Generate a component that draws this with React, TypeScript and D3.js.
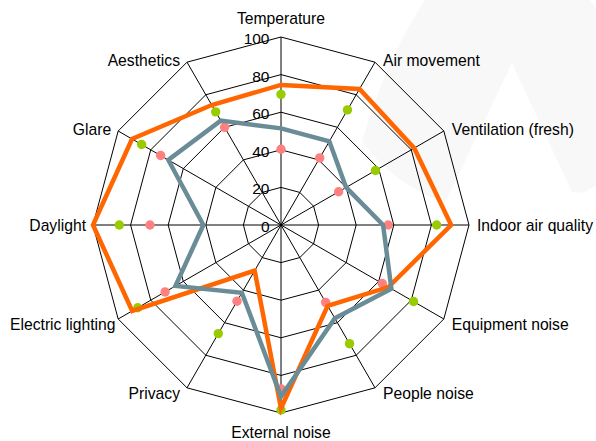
import React from "react";
import * as d3 from "d3";

const categories = [
  "Temperature",
  "Air movement",
  "Ventilation (fresh)",
  "Indoor air quality",
  "Equipment noise",
  "People noise",
  "External noise",
  "Privacy",
  "Electric lighting",
  "Daylight",
  "Glare",
  "Aesthetics",
];

const orangeSeries = [74.5, 83.5, 81.8, 90.5, 66, 49.6, 97.5, 28, 91.4, 100, 91.5, 73.7];
const graySeries = [51.4, 51.4, 40, 54.3, 67.8, 57.3, 91.3, 41.6, 64.8, 41.3, 69.2, 64.1];
const greenSeries = [69.5, 70.7, 58, 82.8, 81.4, 72.9, 98.4, 66.7, 88, 86, 85.6, 69.5];
const pinkSeries = [40.3, 41.2, 35.4, 57, 62.2, 47.5, 87.2, 46.8, 71.2, 69.7, 73.9, 60];

const tickValues = [0, 20, 40, 60, 80, 100];

const W = 596;
const H = 441;
const cx = 281;
const cy = 225;
const R = 188;
const FONT = "'Liberation Sans', Arial, sans-serif";
const LABEL_SIZE = 15.7;

let measureCtx: CanvasRenderingContext2D | null = null;
function textWidth(s: string, size: number): number {
  if (!measureCtx) {
    const c = document.createElement("canvas");
    measureCtx = c.getContext("2d");
  }
  if (!measureCtx) return s.length * size * 0.55;
  measureCtx.font = `${size}px ${FONT}`;
  return measureCtx.measureText(s).width;
}

export default function App() {
  const r = d3.scaleLinear().domain([0, 100]).range([0, R]);
  const angle = d3
    .scalePoint<string>()
    .domain(categories)
    .range([0, 2 * Math.PI * (1 - 1 / categories.length)]);

  const pt = (cat: string, v: number): [number, number] => {
    const a = angle(cat) as number;
    return [cx + r(v) * Math.sin(a), cy - r(v) * Math.cos(a)];
  };

  const ringPath = (v: number) =>
    d3.line().curve(d3.curveLinearClosed)(categories.map((c) => pt(c, v))) as string;

  const seriesPath = (vals: number[]) =>
    d3.line().curve(d3.curveLinearClosed)(categories.map((c, i) => pt(c, vals[i]))) as string;

  const labelProps = (cat: string) => {
    const a = angle(cat) as number;
    const deg = Math.round((a * 180) / Math.PI);
    const [x, y] = pt(cat, 100);
    let anchor: "start" | "end" | "middle" = "middle";
    let tx = x;
    let ty = y;
    if (deg === 0) {
      ty = y - 13;
    } else if (deg === 180) {
      ty = y + 25;
    } else {
      anchor = deg < 180 ? "start" : "end";
      tx = deg < 180 ? x + 8 : x - 7;
      if (deg === 90 || deg === 270) ty = y + 6;
      else if (deg < 90 || deg > 270) ty = y + 4;
      else ty = y + 11;
      if (anchor === "end") {
        const w = textWidth(cat, LABEL_SIZE);
        if (tx - w < 10) {
          anchor = "start";
          tx = 10;
        }
      }
    }
    return { x: tx, y: ty, anchor };
  };

  return (
    <svg
      width={W}
      height={H}
      style={{ position: "absolute", left: 0, top: 0, background: "#fff" }}
    >
      <rect x={0} y={0} width={W} height={H} fill="#fff" />
      {/* faint watermark */}
      <path
        d="M 425 0 L 590 0 Q 600 10 596 30 L 596 185 Q 585 195 572 192 L 512 63 L 445 203 Q 395 185 362 142 Q 385 60 425 0 Z"
        fill="#f8f8f8"
      />
      {/* grid rings */}
      {tickValues.slice(1).map((t) => (
        <path key={t} d={ringPath(t)} fill="none" stroke="#000" strokeWidth={1} />
      ))}
      {/* spokes */}
      {categories.map((c) => {
        const [x, y] = pt(c, 100);
        return <line key={c} x1={cx} y1={cy} x2={x} y2={y} stroke="#000" strokeWidth={1} />;
      })}
      {/* tick labels */}
      {tickValues.map((t) => (
        <text
          key={t}
          x={cx - 11.5}
          y={cy - r(t) + 7}
          textAnchor="end"
          fontFamily={FONT}
          fontSize={15.5}
          fill="#000"
        >
          {t}
        </text>
      ))}
      {/* category labels */}
      {categories.map((c) => {
        const p = labelProps(c);
        return (
          <text
            key={c}
            x={p.x}
            y={p.y}
            textAnchor={p.anchor}
            fontFamily={FONT}
            fontSize={LABEL_SIZE}
            fill="#000"
          >
            {c}
          </text>
        );
      })}
      {/* dots */}
      {categories.map((c, i) => {
        const [x, y] = pt(c, greenSeries[i]);
        return <circle key={"g" + c} cx={x} cy={y} r={4.7} fill="#99CC00" />;
      })}
      {categories.map((c, i) => {
        const [x, y] = pt(c, pinkSeries[i]);
        return <circle key={"p" + c} cx={x} cy={y} r={4.7} fill="#FF8080" />;
      })}
      {/* lines */}
      <path d={seriesPath(orangeSeries)} fill="none" stroke="#FF6600" strokeWidth={4.5} strokeLinejoin="miter" />
      <path d={seriesPath(graySeries)} fill="none" stroke="#6A8C97" strokeWidth={4.5} strokeLinejoin="miter" />
    </svg>
  );
}
